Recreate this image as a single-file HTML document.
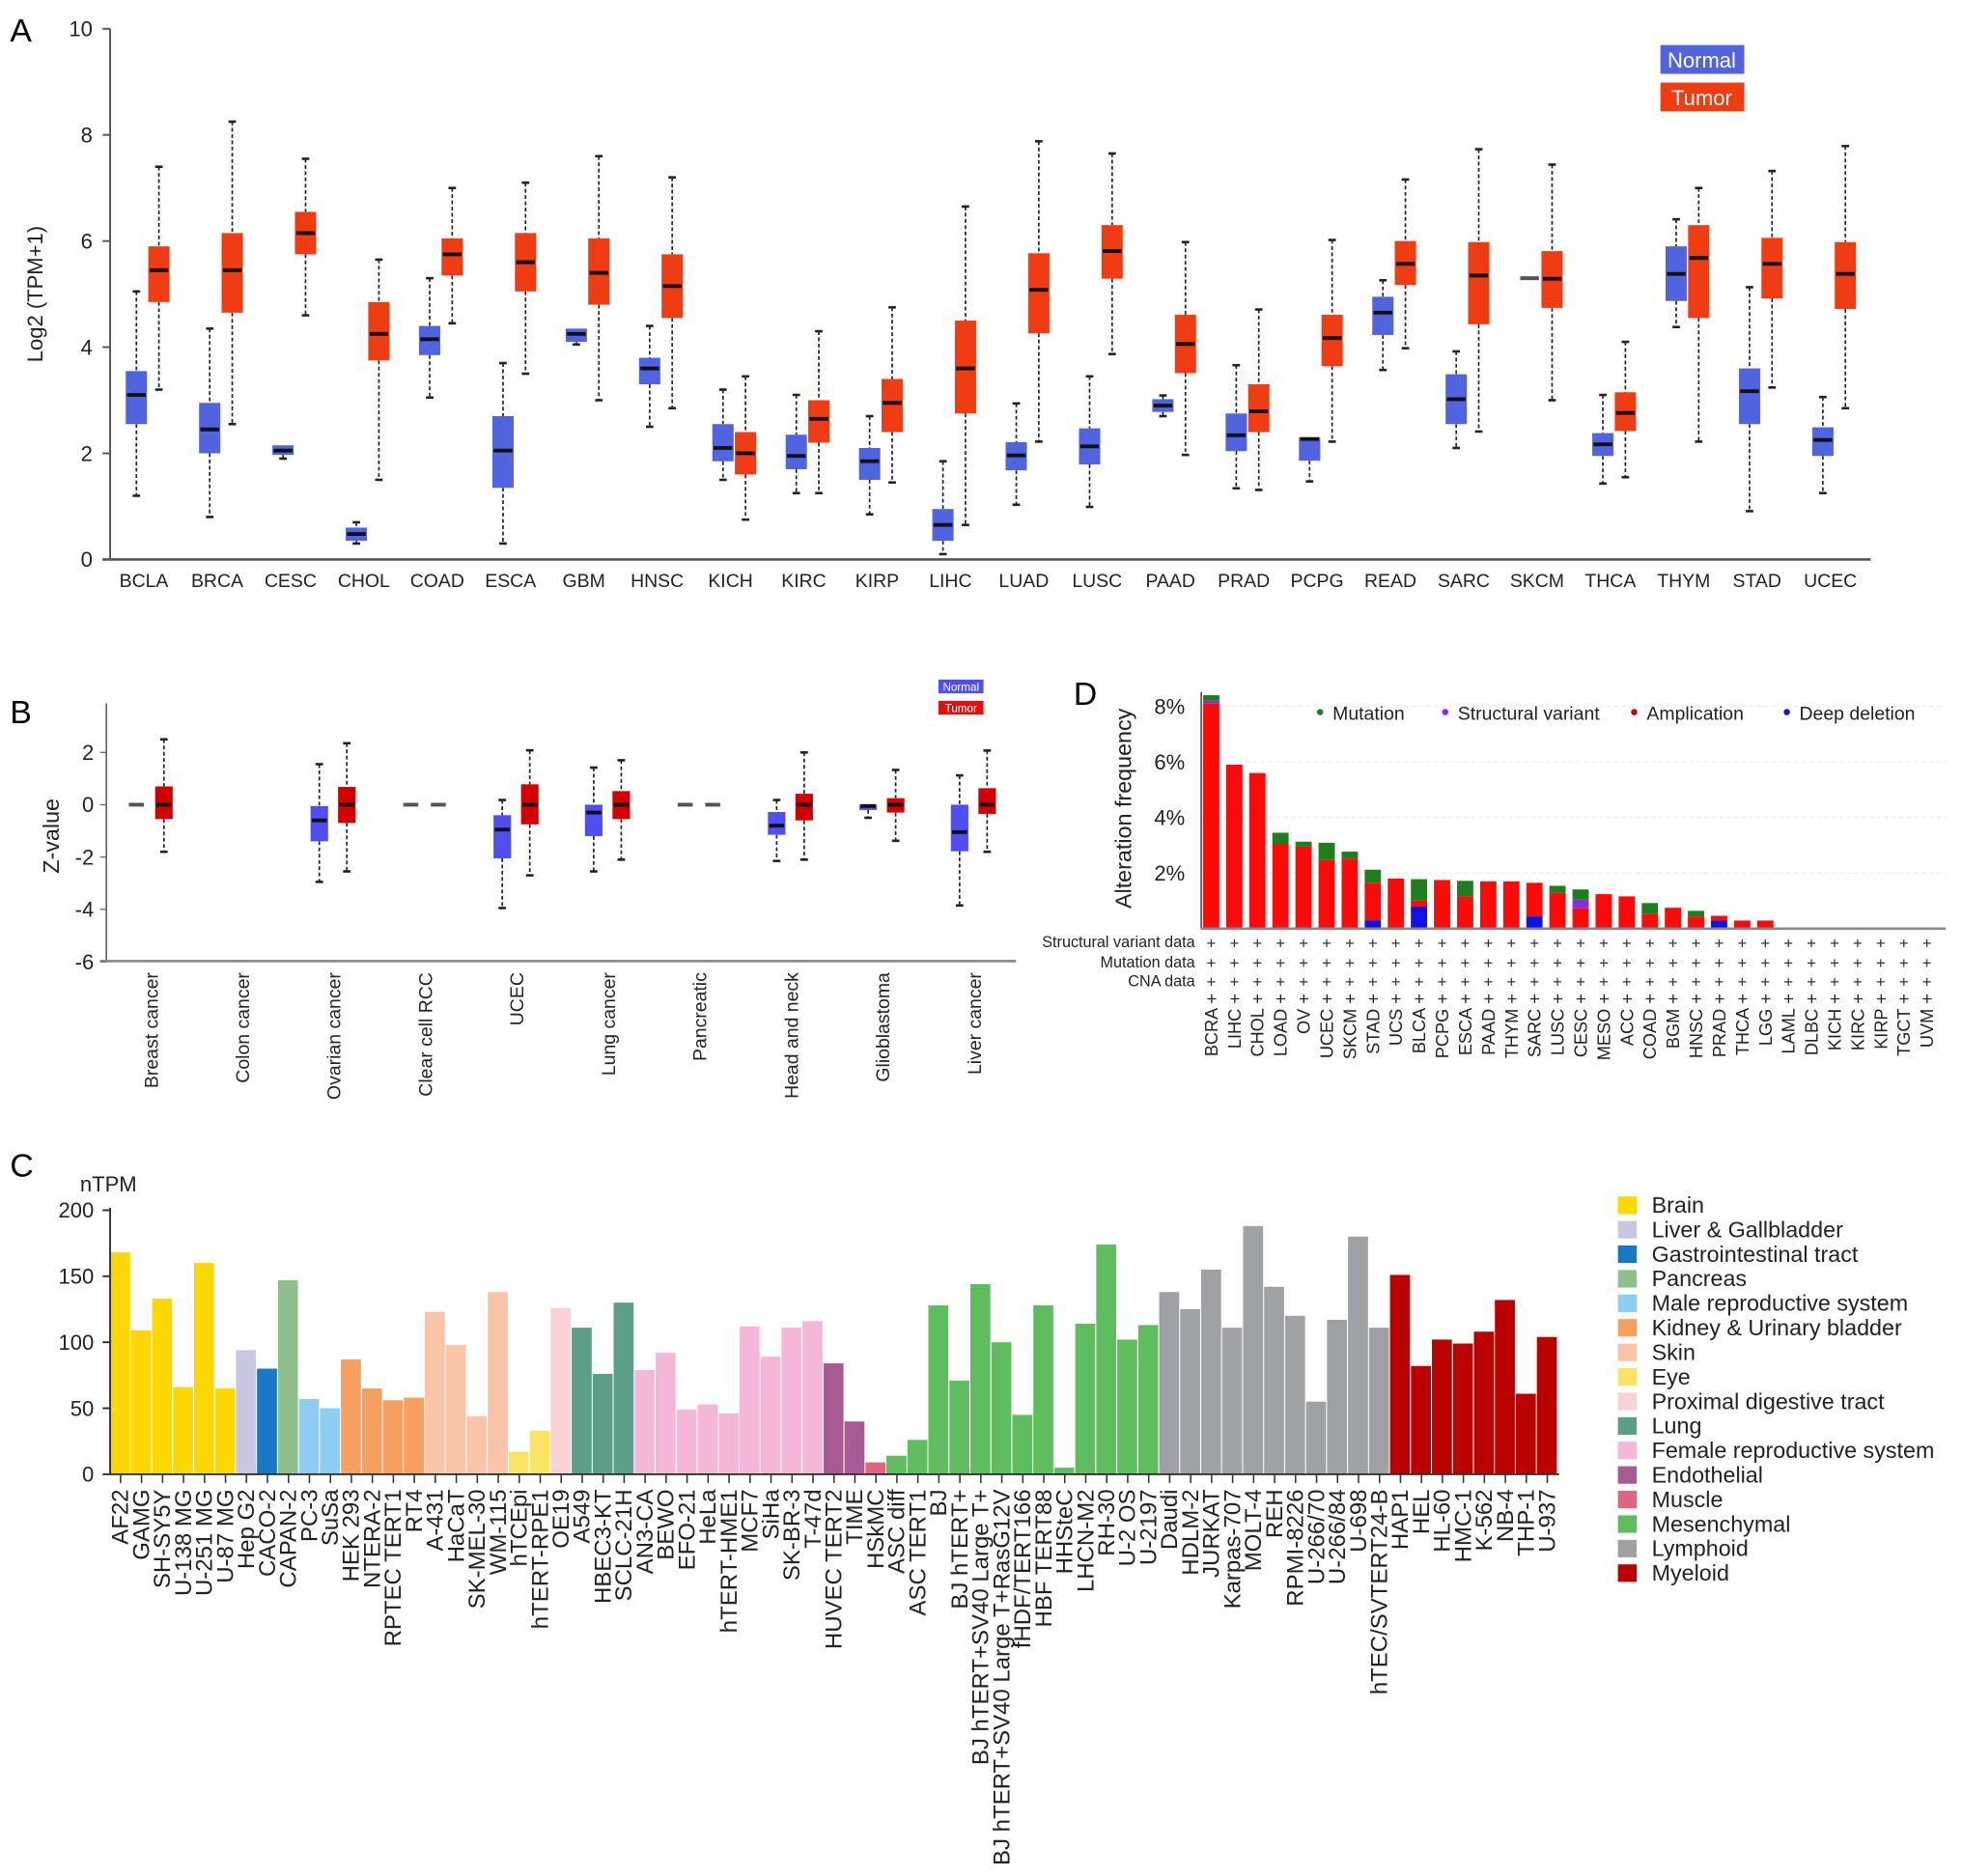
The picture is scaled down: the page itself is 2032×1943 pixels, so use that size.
<!DOCTYPE html>
<html><head><meta charset="utf-8">
<style>
html,body{margin:0;padding:0;background:#fff;}
svg{display:block;font-family:"Liberation Sans",Arial,sans-serif;}
</style></head>
<body>
<svg id="fig" width="2032" height="1943" viewBox="0 0 1568 1499" preserveAspectRatio="none" xmlns="http://www.w3.org/2000/svg">
<rect width="1568" height="1499" fill="#fff"/>
<g id="panelA"></g>
<g id="panelB"></g>
<g id="panelC"></g>
<g id="panelD"></g>
</svg>
<script>
// ---------- Panel A data ----------
const aCats = ["BCLA","BRCA","CESC","CHOL","COAD","ESCA","GBM","HNSC","KICH","KIRC","KIRP","LIHC","LUAD","LUSC","PAAD","PRAD","PCPG","READ","SARC","SKCM","THCA","THYM","STAD","UCEC"];
const aNormal = [
[1.2,2.55,3.1,3.55,5.05],[0.8,2.0,2.45,2.95,4.35],[1.9,1.97,2.05,2.15,2.15],[0.3,0.35,0.48,0.6,0.7],
[3.05,3.85,4.15,4.4,5.3],[0.3,1.35,2.05,2.7,3.7],[4.05,4.1,4.25,4.35,4.35],[2.5,3.3,3.6,3.8,4.4],
[1.5,1.85,2.1,2.55,3.2],[1.25,1.7,1.95,2.35,3.1],[0.85,1.5,1.85,2.1,2.7],[0.1,0.35,0.65,0.95,1.85],
[1.03,1.68,1.96,2.21,2.94],[0.99,1.79,2.13,2.47,3.45],[2.7,2.78,2.9,3.02,3.09],[1.34,2.04,2.34,2.75,3.66],
[1.47,1.86,2.27,2.3,2.3],[3.57,4.23,4.65,4.95,5.26],[2.1,2.55,3.02,3.49,3.92],[5.3,5.3,5.3,5.3,5.3],
[1.43,1.95,2.17,2.38,3.1],[4.38,4.87,5.38,5.9,6.41],[0.91,2.55,3.17,3.6,5.13],[1.25,1.95,2.25,2.49,3.06]];
const aTumor = [
[3.2,4.85,5.45,5.9,7.4],[2.55,4.65,5.45,6.15,8.25],[4.6,5.75,6.15,6.55,7.55],[1.5,3.75,4.25,4.85,5.65],
[4.45,5.35,5.75,6.05,7.0],[3.5,5.05,5.6,6.15,7.1],[3.0,4.8,5.4,6.05,7.6],[2.85,4.55,5.15,5.75,7.2],
[0.75,1.6,2.0,2.4,3.45],[1.25,2.2,2.65,3.0,4.3],[1.45,2.4,2.95,3.4,4.75],[0.65,2.75,3.6,4.5,6.65],
[2.22,4.26,5.08,5.77,7.88],[3.87,5.29,5.81,6.3,7.65],[1.97,3.51,4.06,4.61,5.98],[1.31,2.4,2.79,3.3,4.71],
[2.22,3.64,4.17,4.61,6.02],[3.98,5.17,5.57,6.0,7.16],[2.41,4.43,5.35,5.98,7.73],[3.0,4.74,5.29,5.81,7.44],
[1.55,2.42,2.76,3.15,4.1],[2.22,4.55,5.68,6.3,7.0],[3.24,4.92,5.57,6.06,7.32],[2.85,4.72,5.38,5.98,7.79]];
const aTicks = [0,2,4,6,8,10];

// ---------- Panel B data ----------
const bCats = ["Breast cancer","Colon cancer","Ovarian cancer","Clear cell RCC","UCEC","Lung cancer","Pancreatic","Head and neck","Glioblastoma","Liver cancer"];
const bNormal = [[0,0,0,0,0],null,[-2.95,-1.4,-0.6,-0.05,1.55],[0,0,0,0,0],[-3.95,-2.05,-0.95,-0.4,0.18],[-2.55,-1.2,-0.3,0,1.42],[0,0,0,0,0],[-2.15,-1.15,-0.8,-0.28,0.18],[-0.5,-0.2,-0.05,0,0],[-3.85,-1.78,-1.05,0,1.12]];
const bTumor = [[-1.8,-0.55,0,0.7,2.5],null,[-2.55,-0.7,0,0.68,2.35],[0,0,0,0,0],[-2.7,-0.75,0,0.78,2.08],[-2.1,-0.55,0,0.52,1.7],[0,0,0,0,0],[-2.1,-0.6,0,0.42,2.0],[-1.38,-0.3,0,0.25,1.33],[-1.8,-0.35,0,0.63,2.07]];
const bTicks = [-6,-4,-2,0,2];

// ---------- Panel C data ----------
const cLines = ["AF22","GAMG","SH-SY5Y","U-138 MG","U-251 MG","U-87 MG","Hep G2","CACO-2","CAPAN-2","PC-3","SuSa","HEK 293","NTERA-2","RPTEC TERT1","RT4","A-431","HaCaT","SK-MEL-30","WM-115","hTCEpi","hTERT-RPE1","OE19","A549","HBEC3-KT","SCLC-21H","AN3-CA","BEWO","EFO-21","HeLa","hTERT-HME1","MCF7","SiHa","SK-BR-3","T-47d","HUVEC TERT2","TIME","HSkMC","ASC diff","ASC TERT1","BJ","BJ hTERT+","BJ hTERT+SV40 Large T+","BJ hTERT+SV40 Large T+RasG12V","fHDF/TERT166","HBF TERT88","HHSteC","LHCN-M2","RH-30","U-2 OS","U-2197","Daudi","HDLM-2","JURKAT","Karpas-707","MOLT-4","REH","RPMI-8226","U-266/70","U-266/84","U-698","hTEC/SVTERT24-B","HAP1","HEL","HL-60","HMC-1","K-562","NB-4","THP-1","U-937"];
const cValues = [168,109,133,66,160,65,94,80,147,57,50,87,65,56,58,123,98,44,138,17,33,126,111,76,130,79,92,49,53,46,112,89,111,116,84,40,9,14,26,128,71,144,100,45,128,5,114,174,102,113,138,125,155,111,188,142,120,55,117,180,111,151,82,102,99,108,132,61,104];
const cGroupIdx = [0,0,0,0,0,0,1,2,3,4,4,5,5,5,5,6,6,6,6,7,7,8,9,9,9,10,10,10,10,10,10,10,10,10,11,11,12,13,13,13,13,13,13,13,13,13,13,13,13,13,14,14,14,14,14,14,14,14,14,14,14,15,15,15,15,15,15,15,15];
const cGroups = ["Brain","Liver & Gallbladder","Gastrointestinal tract","Pancreas","Male reproductive system","Kidney & Urinary bladder","Skin","Eye","Proximal digestive tract","Lung","Female reproductive system","Endothelial","Muscle","Mesenchymal","Lymphoid","Myeloid"];
const cColors = ["#fcd800","#c9c6e2","#1878c4","#8fc08c","#8ecdf2","#f5a060","#f9c4a8","#f9e463","#f8d2d4","#5c9e87","#f5b7d8","#a85a92","#e0657e","#5fbd5f","#9fa1a5","#bb0000"];
const cTicks = [0,50,100,150,200];

// ---------- Panel D data ----------
const dCats = ["BCRA","LIHC","CHOL","LOAD","OV","UCEC","SKCM","STAD","UCS","BLCA","PCPG","ESCA","PAAD","THYM","SARC","LUSC","CESC","MESO","ACC","COAD","BGM","HNSC","PRAD","THCA","LGG","LAML","DLBC","KICH","KIRC","KIRP","TGCT","UVM"];
const dDeep = [0,0,0,0,0,0,0,0.3,0,0.79,0,0,0,0,0.44,0,0,0,0,0,0,0,0.29,0,0,0,0,0,0,0,0,0];
const dAmp = [8.1,5.9,5.6,3.05,2.95,2.47,2.52,1.35,1.8,0.22,1.75,1.16,1.7,1.7,1.21,1.29,0.73,1.24,1.16,0.54,0.75,0.44,0.17,0.29,0.29,0,0,0,0,0,0,0];
const dStruct = [0.1,0,0,0,0,0,0,0,0,0,0,0,0,0,0,0,0.31,0,0,0,0,0,0,0,0,0,0,0,0,0,0,0];
const dMut = [0.2,0,0,0.4,0.18,0.62,0.25,0.47,0,0.77,0,0.56,0,0,0,0.25,0.37,0,0,0.38,0,0.2,0,0,0,0,0,0,0,0,0,0];
const dTicks = [2,4,6,8];

const NS="http://www.w3.org/2000/svg";
function mk(parent,tag,attrs,text){const e=document.createElementNS(NS,tag);for(const k in attrs)e.setAttribute(k,attrs[k]);if(text!==undefined)e.textContent=text;parent.appendChild(e);return e;}

function drawBox(g,cx,w,v,ys,fill,name){
  const bg=mk(g,'g',{});
  
  
  const [lo,q1,md,q3,hi]=v;
  if(hi>q3){mk(bg,'line',{x1:cx,x2:cx,y1:ys(hi),y2:ys(q3),stroke:'#222','stroke-width':1.3,'stroke-dasharray':'3,2'});mk(bg,'line',{x1:cx-3,x2:cx+3,y1:ys(hi),y2:ys(hi),stroke:'#222','stroke-width':2});}
  if(q1>lo){mk(bg,'line',{x1:cx,x2:cx,y1:ys(q1),y2:ys(lo),stroke:'#222','stroke-width':1.3,'stroke-dasharray':'3,2'});mk(bg,'line',{x1:cx-3,x2:cx+3,y1:ys(lo),y2:ys(lo),stroke:'#222','stroke-width':2});}
  if(q3>q1) mk(bg,'rect',{x:cx-w/2,y:ys(q3),width:w,height:ys(q1)-ys(q3),fill:fill});
  mk(bg,'line',{x1:cx-w/2+1,x2:cx+w/2-1,y1:ys(md),y2:ys(md),stroke:(q3>q1?'#111':'#555'),'stroke-width':3});
}

// ---------- Panel A ----------
(function(){
  const g=document.getElementById('panelA');
  const y0=447,y1=23, ys=v=>y0-(v/10)*(y0-y1);
  const xc=i=>118+i*58.6;
  mk(g,'text',{x:8,y:33,'font-size':26},'A');
  mk(g,'line',{x1:88,x2:88,y1:23,y2:447,stroke:'#555','stroke-width':1.5});
  mk(g,'line',{x1:82,x2:1495,y1:447,y2:447,stroke:'#555','stroke-width':2});
  aTicks.forEach(t=>{mk(g,'line',{x1:82,x2:88,y1:ys(t),y2:ys(t),stroke:'#555','stroke-width':1.5});
    const tx=mk(g,'text',{x:74,y:ys(t)+6,'font-size':17,'text-anchor':'end',fill:'#222'},t);
    });
  const yl=mk(g,'text',{x:0,y:0,'font-size':17,'text-anchor':'middle',transform:'translate(34,235) rotate(-90)',fill:'#222'},'Log2 (TPM+1)');
  
  aCats.forEach((c,i)=>{
    drawBox(g,xc(i)-9,17,aNormal[i],ys,'#5064e0','box-normal-'+c.toLowerCase());
    drawBox(g,xc(i)+9,17,aTumor[i],ys,'#f03c12','box-tumor-'+c.toLowerCase());
    const t=mk(g,'text',{x:xc(i)-3,y:469,'font-size':15,'text-anchor':'middle',fill:'#222'},c);
    
  });
  const l1=mk(g,'g',{});
  mk(l1,'rect',{x:1327,y:36,width:67,height:23,fill:'#5064e0'});
  mk(l1,'text',{x:1360,y:54,'font-size':17,fill:'#fff','text-anchor':'middle'},'Normal');
  const l2=mk(g,'g',{});
  mk(l2,'rect',{x:1327,y:66,width:67,height:23,fill:'#f03c12'});
  mk(l2,'text',{x:1360,y:84,'font-size':17,fill:'#fff','text-anchor':'middle'},'Tumor');
})();

// ---------- Panel B ----------
(function(){
  const g=document.getElementById('panelB');
  const ys=v=>643-v*20.9;
  const xc=i=>120+i*73.1;
  mk(g,'text',{x:8,y:578,'font-size':26},'B');
  mk(g,'line',{x1:85,x2:85,y1:562,y2:768,stroke:'#666','stroke-width':1.3});
  mk(g,'line',{x1:80,x2:812,y1:768,y2:768,stroke:'#888','stroke-width':2});
  bTicks.forEach(t=>{mk(g,'line',{x1:80,x2:85,y1:ys(t),y2:ys(t),stroke:'#666'});
    const tx=mk(g,'text',{x:75,y:ys(t)+6,'font-size':17,'text-anchor':'end',fill:'#222'},t===0?'0':(t<0?'-'+(-t):t));
    });
  const yl=mk(g,'text',{x:0,y:0,'font-size':18,'text-anchor':'middle',transform:'translate(47,668) rotate(-90)',fill:'#222'},'Z-value');
  
  bCats.forEach((c,i)=>{
    if(bNormal[i]) drawBox(g,xc(i)-11,14,bNormal[i],ys,'#4e4ef2','box-normal-'+i);
    if(bTumor[i]) drawBox(g,xc(i)+11,14,bTumor[i],ys,'#d40000','box-tumor-'+i);
    const t=mk(g,'text',{x:0,y:0,'font-size':15,'text-anchor':'end',fill:'#222',transform:`translate(${xc(i)+6},777) rotate(-90)`},c);
    
  });
  const l1=mk(g,'g',{});
  mk(l1,'rect',{x:750,y:543,width:36,height:11,fill:'#4e4ef2'});
  mk(l1,'text',{x:768,y:552,'font-size':9,fill:'#fff','text-anchor':'middle'},'Normal');
  const l2=mk(g,'g',{});
  mk(l2,'rect',{x:750,y:560,width:36,height:11,fill:'#e01010'});
  mk(l2,'text',{x:768,y:569,'font-size':9,fill:'#fff','text-anchor':'middle'},'Tumor');
})();

// ---------- Panel C ----------
(function(){
  const g=document.getElementById('panelC');
  const ys=v=>1178-v*1.055;
  const bw=(1245-88)/cValues.length;
  mk(g,'text',{x:8,y:940,'font-size':26},'C');
  mk(g,'text',{x:64,y:952,'font-size':17,fill:'#222'},'nTPM');
  cTicks.forEach(t=>{mk(g,'line',{x1:82,x2:88,y1:ys(t),y2:ys(t),stroke:'#333','stroke-width':1.5});
    const tx=mk(g,'text',{x:75,y:ys(t)+6,'font-size':17,'text-anchor':'end',fill:'#222'},t);
    });
  cValues.forEach((v,i)=>{
    const r=mk(g,'rect',{x:88+i*bw,y:ys(v),width:bw-0.8,height:ys(0)-ys(v),fill:cColors[cGroupIdx[i]]});
    
    
    const cx=88+i*bw+bw/2;
    mk(g,'line',{x1:cx,x2:cx,y1:1178,y2:1185,stroke:'#333','stroke-width':1.2});
    const t=mk(g,'text',{x:0,y:0,'font-size':18.5,'text-anchor':'end',fill:'#222',transform:`translate(${cx+6},1190) rotate(-90)`},cLines[i]);
    
  });
  mk(g,'line',{x1:88,x2:88,y1:965,y2:1178,stroke:'#333','stroke-width':1.5});
  mk(g,'line',{x1:88,x2:1246,y1:1178,y2:1178,stroke:'#333','stroke-width':1.5});
  cGroups.forEach((n,i)=>{
    const lg=mk(g,'g',{});
    
    
    const y=956+i*19.6;
    mk(lg,'rect',{x:1293,y:y,width:15,height:14,fill:cColors[i]});
    mk(lg,'text',{x:1320,y:y+13,'font-size':18,fill:'#222'},n);
  });
})();

// ---------- Panel D ----------
(function(){
  const g=document.getElementById('panelD');
  const ys=v=>742-v*22.2;
  const xc=i=>968+i*18.45;
  mk(g,'text',{x:858,y:563,'font-size':26},'D');
  dTicks.forEach(t=>{
    mk(g,'line',{x1:960,x2:1555,y1:ys(t),y2:ys(t),stroke:'#eee','stroke-dasharray':'3,3'});
    const tx=mk(g,'text',{x:947,y:ys(t)+6,'font-size':17,'text-anchor':'end',fill:'#222'},t+'%');
    });
  const yl=mk(g,'text',{x:0,y:0,'font-size':18,'text-anchor':'middle',transform:'translate(904,646) rotate(-90)',fill:'#222'},'Alteration frequency');
  
  dCats.forEach((c,i)=>{
    const bg=mk(g,'g',{});
    
    
    let base=0;const w=13,x=xc(i)-w/2;
    [[dDeep[i],'#1010e8'],[dAmp[i],'#fb0a0a'],[dStruct[i],'#8a2be2'],[dMut[i],'#1e7e1e']].forEach(([v,col])=>{
      if(v>0){mk(bg,'rect',{x:x,y:ys(base+v),width:w,height:ys(base)-ys(base+v),fill:col});base+=v;}
    });
    [753,769,784].forEach(yy=>mk(g,'text',{x:xc(i),y:yy+5,'font-size':13,'text-anchor':'middle',fill:'#333'},'+'));
    const t=mk(g,'text',{x:0,y:0,'font-size':14,'text-anchor':'end',fill:'#222',transform:`translate(${xc(i)+5},794) rotate(-90)`},c+' +');
    
  });
  mk(g,'line',{x1:960,x2:960,y1:553,y2:742,stroke:'#555','stroke-width':1.3});
  mk(g,'line',{x1:960,x2:1555,y1:742,y2:742,stroke:'#888','stroke-width':2});
  [['Structural variant data',757],['Mutation data',773],['CNA data',788]].forEach(([s,y])=>{
    const t=mk(g,'text',{x:955,y:y,'font-size':12.5,'text-anchor':'end',fill:'#222'},s);
    });
  [['Mutation',1055,'#1e7e1e'],['Structural variant',1155,'#8a2be2'],['Amplication',1306,'#d00000'],['Deep deletion',1428,'#1010e8']].forEach(([n,x,col])=>{
    const lg=mk(g,'g',{});
    
    
    mk(lg,'circle',{cx:x,cy:569,r:2.5,fill:col});
    mk(lg,'text',{x:x+10,y:575,'font-size':15,fill:'#222'},n);
  });
})();
</script>
</body></html>
